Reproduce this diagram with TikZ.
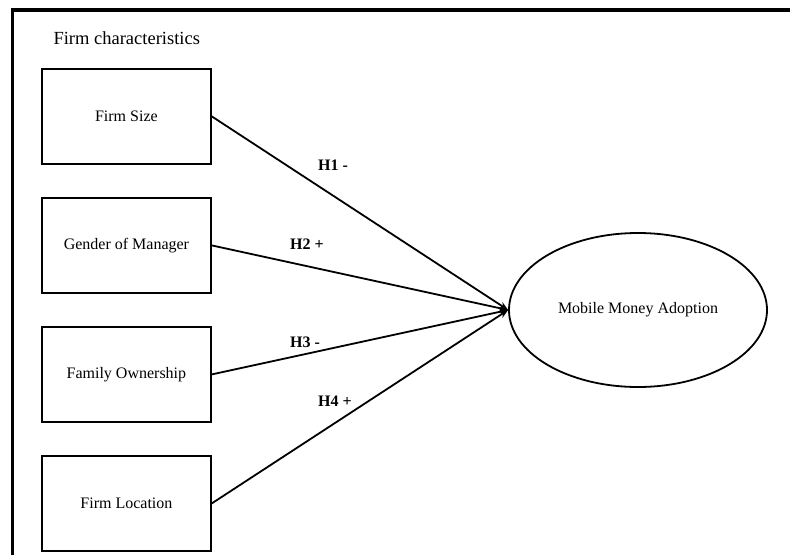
\documentclass[tikz,border=0pt]{standalone}
\usepackage{fontspec}
\setmainfont{Liberation Serif}
\usetikzlibrary{arrows.meta,shapes.geometric}
\begin{document}
\begin{tikzpicture}[x=1pt,y=-1pt,
  factor/.style={draw,line width=1.8pt,minimum width=169pt,minimum height=95pt,inner sep=0pt,font=\fontsize{16}{19}\selectfont,anchor=north west},
  outcome/.style={draw,ellipse,line width=1.8pt,minimum width=258pt,minimum height=154pt,inner sep=0pt,font=\fontsize{16}{19}\selectfont},
  hyp/.style={font=\fontsize{16}{19}\selectfont\bfseries},
  link/.style={line width=1.8pt,-{Stealth[length=9pt,width=7pt]}},
  frame/.style={line width=3.5pt}]
\useasboundingbox (0,0) rectangle (790,555);
\draw[frame] (12.5,555) -- (12.5,10) -- (790,10);
\node[anchor=west,font=\fontsize{18.5}{22}\selectfont] (title) at (50,38) {Firm characteristics};
\node[factor] (size) at (41,68) {Firm Size};
\node[factor] (gender) at (41,197) {Gender of Manager};
\node[factor] (family) at (41,326) {Family Ownership};
\node[factor] (location) at (41,455) {Firm Location};
\node[outcome] (mma) at (638,310) {Mobile Money Adoption};
\draw[link] (size.east) -- (mma.west);
\draw[link] (gender.east) -- (mma.west);
\draw[link] (family.east) -- (mma.west);
\draw[link] (location.east) -- (mma.west);
\node[hyp] (h1) at (333,165) {H1 -};
\node[hyp] (h2) at (307,244) {H2 +};
\node[hyp] (h3) at (305,342) {H3 -};
\node[hyp] (h4) at (335,401) {H4 +};
\end{tikzpicture}
\end{document}
